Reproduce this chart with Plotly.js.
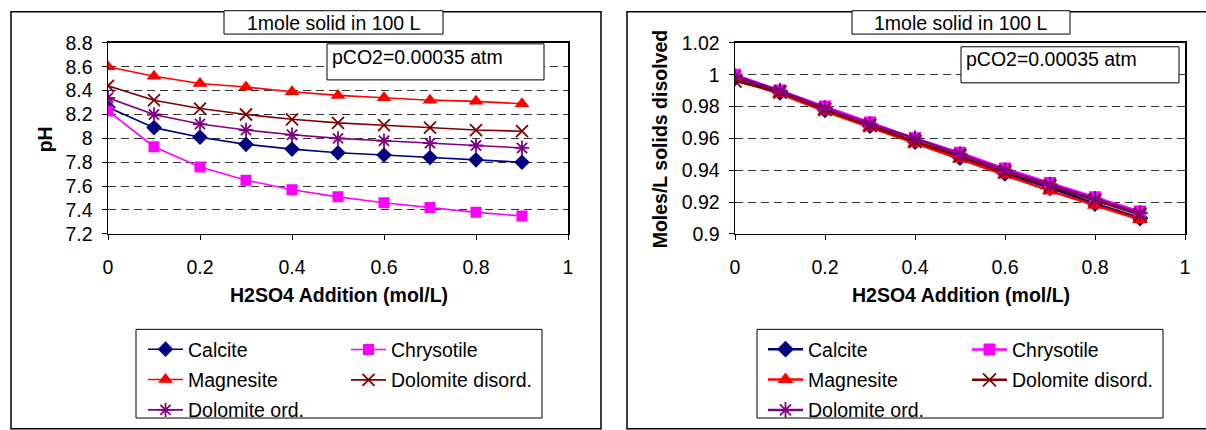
<!DOCTYPE html>
<html>
<head>
<meta charset="utf-8">
<script src="https://cdn.plot.ly/plotly-3.0.1.min.js"></script>
<style>html,body{margin:0;padding:0;background:#fff;}#chart{width:1206px;height:430px;}</style>
</head>
<body>
<div id="chart"></div>
<script>
// ---- data ----
const xAdd = [0, 0.1, 0.2, 0.3, 0.4, 0.5, 0.6, 0.7, 0.8, 0.9];
const seriesNames = ['Calcite', 'Chrysotile', 'Magnesite', 'Dolomite disord.', 'Dolomite ord.'];

const phCalcite    = [8.26, 8.09, 8.01, 7.95, 7.91, 7.88, 7.86, 7.84, 7.82, 7.80];
const phChrysotile = [8.23, 7.93, 7.76, 7.65, 7.57, 7.51, 7.46, 7.42, 7.38, 7.35];
const phMagnesite  = [8.60, 8.52, 8.46, 8.43, 8.39, 8.36, 8.34, 8.32, 8.31, 8.29];
const phDolDis     = [8.44, 8.32, 8.25, 8.20, 8.16, 8.13, 8.11, 8.09, 8.07, 8.06];
const phDolOrd     = [8.34, 8.20, 8.12, 8.07, 8.03, 8.00, 7.98, 7.96, 7.94, 7.92];

const disCalcite    = [0.998, 0.989, 0.978, 0.968, 0.958, 0.948, 0.938, 0.929, 0.919, 0.910];
const disChrysotile = [1.000, 0.990, 0.980, 0.970, 0.960, 0.951, 0.941, 0.932, 0.923, 0.914];
const disMagnesite  = [0.997, 0.988, 0.977, 0.967, 0.957, 0.947, 0.937, 0.927, 0.918, 0.909];
const disDolDis     = [0.996, 0.989, 0.978, 0.968, 0.958, 0.949, 0.939, 0.930, 0.921, 0.912];
const disDolOrd     = [0.999, 0.990, 0.979, 0.969, 0.960, 0.950, 0.940, 0.931, 0.922, 0.913];

const phTicks  = [7.2, 7.4, 7.6, 7.8, 8, 8.2, 8.4, 8.6, 8.8];
const disTicks = [0.9, 0.92, 0.94, 0.96, 0.98, 1, 1.02];
const xTicks   = [0, 0.2, 0.4, 0.6, 0.8, 1];

const chartTitle = '1mole solid in 100 L';
const boxNote = 'pCO2=0.00035 atm';
const xTitle = 'H2SO4 Addition (mol/L)';
const yTitleL = 'pH';
const yTitleR = 'Moles/L solids disolved';

// ---- styles ----
const W = 1206, H = 430;
const FONT = 'Liberation Sans, Arial, sans-serif';
const FS = 19.5;
const px = v => v / W;
const py = v => 1 - v / H;

const styles = [
  {color: '#000080', symbol: 'diamond', size: 12},
  {color: '#FF00FF', symbol: 'square', size: 11},
  {color: '#FF0000', symbol: 'triangle-up', size: 13},
  {color: '#800000', symbol: 'x-thin-open', size: 12},
  {color: '#800080', symbol: 'asterisk-open', size: 12}
];
// which legend column each series goes in
const colOf = [0, 1, 0, 1, 0];

function mk(i, ys, side) {
  const s = styles[i];
  const open = s.symbol.indexOf('open') >= 0;
  return {
    x: xAdd, y: ys, type: 'scatter', mode: 'lines+markers',
    name: seriesNames[i],
    xaxis: side === 'L' ? 'x' : 'x2',
    yaxis: side === 'L' ? 'y' : 'y2',
    legend: side === 'L' ? (colOf[i] === 0 ? 'legend' : 'legend2') : (colOf[i] === 0 ? 'legend3' : 'legend4'),
    legendgroup: side + i,
    line: {color: s.color, width: side === 'L' ? 1.6 : 2.5},
    marker: {symbol: s.symbol, size: side === 'L' ? s.size : s.size + 1, color: s.color,
             line: {color: s.color, width: open ? 1.8 : 0}}
  };
}

const phSets = [phCalcite, phChrysotile, phMagnesite, phDolDis, phDolOrd];
const disSets = [disCalcite, disChrysotile, disMagnesite, disDolDis, disDolOrd];
const data = [];
phSets.forEach((ys, i) => data.push(mk(i, ys, 'L')));
disSets.forEach((ys, i) => data.push(mk(i, ys, 'R')));

const baseX = {
  range: [0, 1], tickvals: xTicks, ticks: 'outside', ticklen: 5, tickwidth: 1,
  tickcolor: '#000', showline: true, linecolor: '#000', linewidth: 1.5, mirror: true,
  showgrid: false, zeroline: false, tickfont: {family: FONT, size: FS, color: '#000'},
  ticklabelstandoff: 10, fixedrange: true
};
const baseY = {
  ticks: 'outside', ticklen: 5, tickwidth: 1, tickcolor: '#000',
  showline: true, linecolor: '#000', linewidth: 1.5, mirror: true,
  showgrid: true, gridcolor: '#333', gridwidth: 1, griddash: '8px,5px',
  zeroline: false, tickfont: {family: FONT, size: FS, color: '#000'},
  ticklabelstandoff: 5, fixedrange: true
};

const legBase = {
  orientation: 'v', xanchor: 'left', yanchor: 'top', bgcolor: 'rgba(0,0,0,0)',
  borderwidth: 0, font: {family: FONT, size: FS, color: '#000'}, tracegroupgap: 2,
  itemwidth: 35, itemclick: false, itemdoubleclick: false
};

const rect = (x0, y0, x1, y1, fill, lw) => ({
  type: 'rect', xref: 'paper', yref: 'paper', layer: 'above',
  x0: px(x0), x1: px(x1), y0: py(y0), y1: py(y1),
  line: {color: '#000', width: lw}, fillcolor: fill
});

const ann = (text, x, y, opts) => Object.assign({
  text: text, xref: 'paper', yref: 'paper', x: px(x), y: py(y),
  showarrow: false, xanchor: 'center', yanchor: 'middle',
  font: {family: FONT, size: FS, color: '#000'}
}, opts || {});

const layout = {
  width: W, height: H,
  margin: {l: 0, r: 0, t: 0, b: 0},
  paper_bgcolor: '#fff', plot_bgcolor: '#fff',
  xaxis: Object.assign({}, baseX, {domain: [px(108), px(568)], anchor: 'y'}),
  yaxis: Object.assign({}, baseY, {domain: [py(240), py(44)], anchor: 'x', range: [7.2, 8.8], tickvals: phTicks}),
  xaxis2: Object.assign({}, baseX, {domain: [px(735), px(1185)], anchor: 'y2'}),
  yaxis2: Object.assign({}, baseY, {domain: [py(240), py(44)], anchor: 'x2', range: [0.9, 1.02], tickvals: disTicks}),
  showlegend: true,
  legend:  Object.assign({}, legBase, {x: px(143), y: py(339)}),
  legend2: Object.assign({}, legBase, {x: px(346), y: py(339)}),
  legend3: Object.assign({}, legBase, {x: px(763), y: py(339)}),
  legend4: Object.assign({}, legBase, {x: px(967), y: py(339)}),
  shapes: [
    rect(11, 12, 601, 440, 'rgba(0,0,0,0)', 1.5),
    rect(627, 12, 1215, 440, 'rgba(0,0,0,0)', 1.5),
    rect(224, 11, 443, 35, '#fff', 1),
    rect(852, 11, 1070, 35, '#fff', 1),
    rect(327, 45, 544, 82, '#fff', 1),
    rect(961, 48, 1179, 85, '#fff', 1),
    rect(136, 338, 542, 429, 'rgba(0,0,0,0)', 1),
    rect(757, 338, 1163, 429, 'rgba(0,0,0,0)', 1)
  ],
  annotations: [
    ann(chartTitle, 333.5, 23.5),
    ann(chartTitle, 961, 23.5),
    ann(boxNote, 330, 58, {xanchor: 'left'}),
    ann(boxNote, 964, 61, {xanchor: 'left'}),
    ann('<b>' + xTitle + '</b>', 339, 303),
    ann('<b>' + xTitle + '</b>', 961, 303),
    ann('<b>' + yTitleL + '</b>', 45, 143, {textangle: -90}),
    ann('<b>' + yTitleR + '</b>', 660, 142, {textangle: -90})
  ]
};

Plotly.newPlot('chart', data, layout, {displayModeBar: false, staticPlot: true});
</script>
</body>
</html>
